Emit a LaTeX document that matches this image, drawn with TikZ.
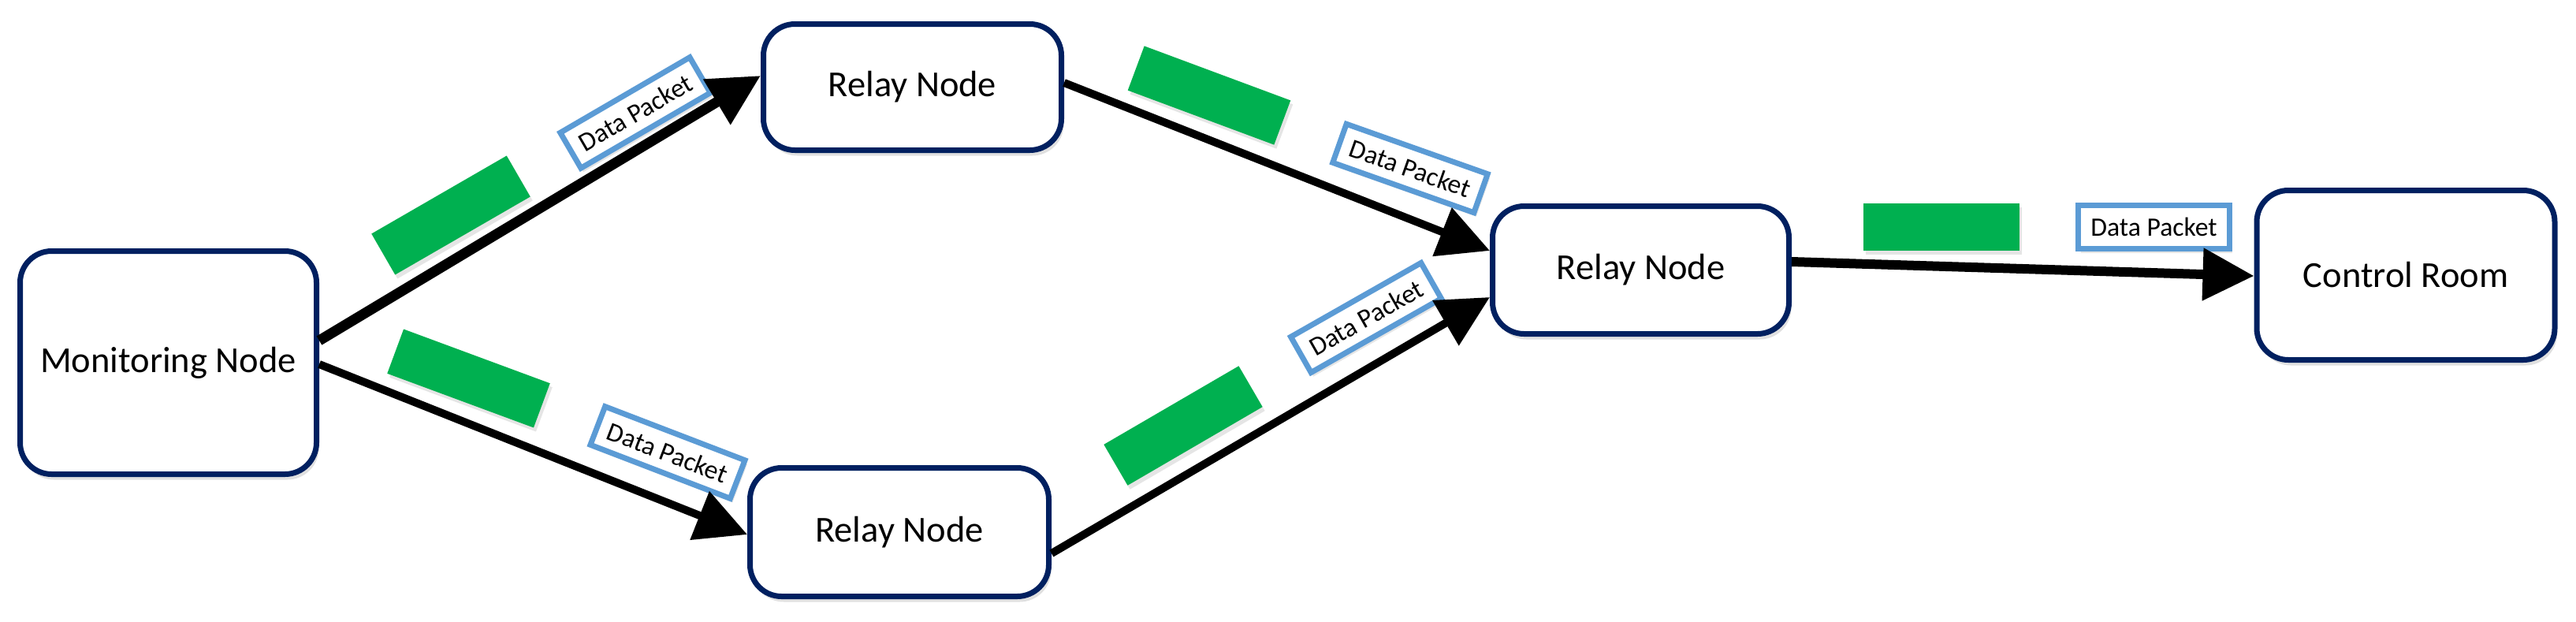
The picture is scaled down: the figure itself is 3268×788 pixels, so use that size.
\documentclass[tikz,border=0pt]{standalone}
\usepackage{fontspec}
\setmainfont{Carlito}
\usetikzlibrary{arrows.meta,shadows}
\definecolor{navy}{RGB}{0,32,96}
\definecolor{pktgreen}{RGB}{0,176,80}
\definecolor{pktblue}{RGB}{91,155,213}
\tikzset{
  unit/.style={draw=navy, line width=7pt, rounded corners=40pt, fill=white,
    inner sep=0pt, align=center, font=\fontsize{46.5}{56}\selectfont,
    drop shadow={fill=black, opacity=0.12, shadow xshift=3pt, shadow yshift=-7pt}},
  greenbox/.style={fill=pktgreen, minimum width=198pt, minimum height=60pt, inner sep=0pt,
    drop shadow={fill=black, opacity=0.10, shadow xshift=3pt, shadow yshift=-5pt}},
  pkt/.style={draw=pktblue, line width=7pt, fill=white, minimum width=190pt, minimum height=52pt,
    inner sep=0pt, font=\fontsize{33.7}{40}\selectfont,
    drop shadow={fill=black, opacity=0.10, shadow xshift=3pt, shadow yshift=-5pt}},
  flow/.style={line width=10pt, draw=black, -{Triangle[length=65pt, width=64pt]}},
}
\begin{document}
\begin{tikzpicture}[x=1pt,y=-1pt]
\useasboundingbox[fill=white] (0,0) rectangle (3268,788);
% nodes
\node[unit, minimum width=376pt, minimum height=283pt] (mn) at (213.5,460) {Monitoring Node};
\node[unit, minimum width=378pt, minimum height=160pt] (rt) at (1157.5,110.5) {Relay Node};
\node[unit, minimum width=379pt, minimum height=163pt] (rb) at (1141,675) {Relay Node};
\node[unit, minimum width=376pt, minimum height=162pt] (rm) at (2081.5,342.5) {Relay Node};
\node[unit, minimum width=378pt, minimum height=215pt] (cr) at (3052,349) {Control Room};
% green packets
\node[greenbox, rotate=30] (g1) at (572,273) {};
\node[greenbox, rotate=-20.3] (g2) at (594.5,480) {};
\node[greenbox, rotate=-20.4] (g3) at (1534,121) {};
\node[greenbox, rotate=30.2] (g4) at (1501,540) {};
\node[greenbox] (g5) at (2462.5,288) {};
% data packet labels
\node[pkt, rotate=30.2] (dp1) at (806,143) {Data Packet};
\node[pkt, rotate=-21] (dp2) at (847,574) {Data Packet};
\node[pkt, rotate=-19.5] (dp3) at (1789,213.5) {Data Packet};
\node[pkt, rotate=29.6] (dp4) at (1733,403) {Data Packet};
\node[pkt, minimum width=192pt, minimum height=55pt] (dp5) at (2732.5,288) {Data Packet};
% connectors
\draw[flow, line width=13pt] ([yshift=28pt]mn.east) -- ([yshift=14.5pt]rt.west);
\draw[flow] ([yshift=-2pt]mn.east) -- ([yshift=-3pt]rb.west);
\draw[flow] ([yshift=5.5pt]rt.east) -- ([yshift=24.5pt]rm.west);
\draw[flow] ([yshift=-27pt]rb.east) -- ([yshift=-34.5pt]rm.west);
\draw[flow, line width=12pt] ([yshift=10.5pt]rm.east) -- ([yshift=-1pt]cr.west);
\end{tikzpicture}
\end{document}
